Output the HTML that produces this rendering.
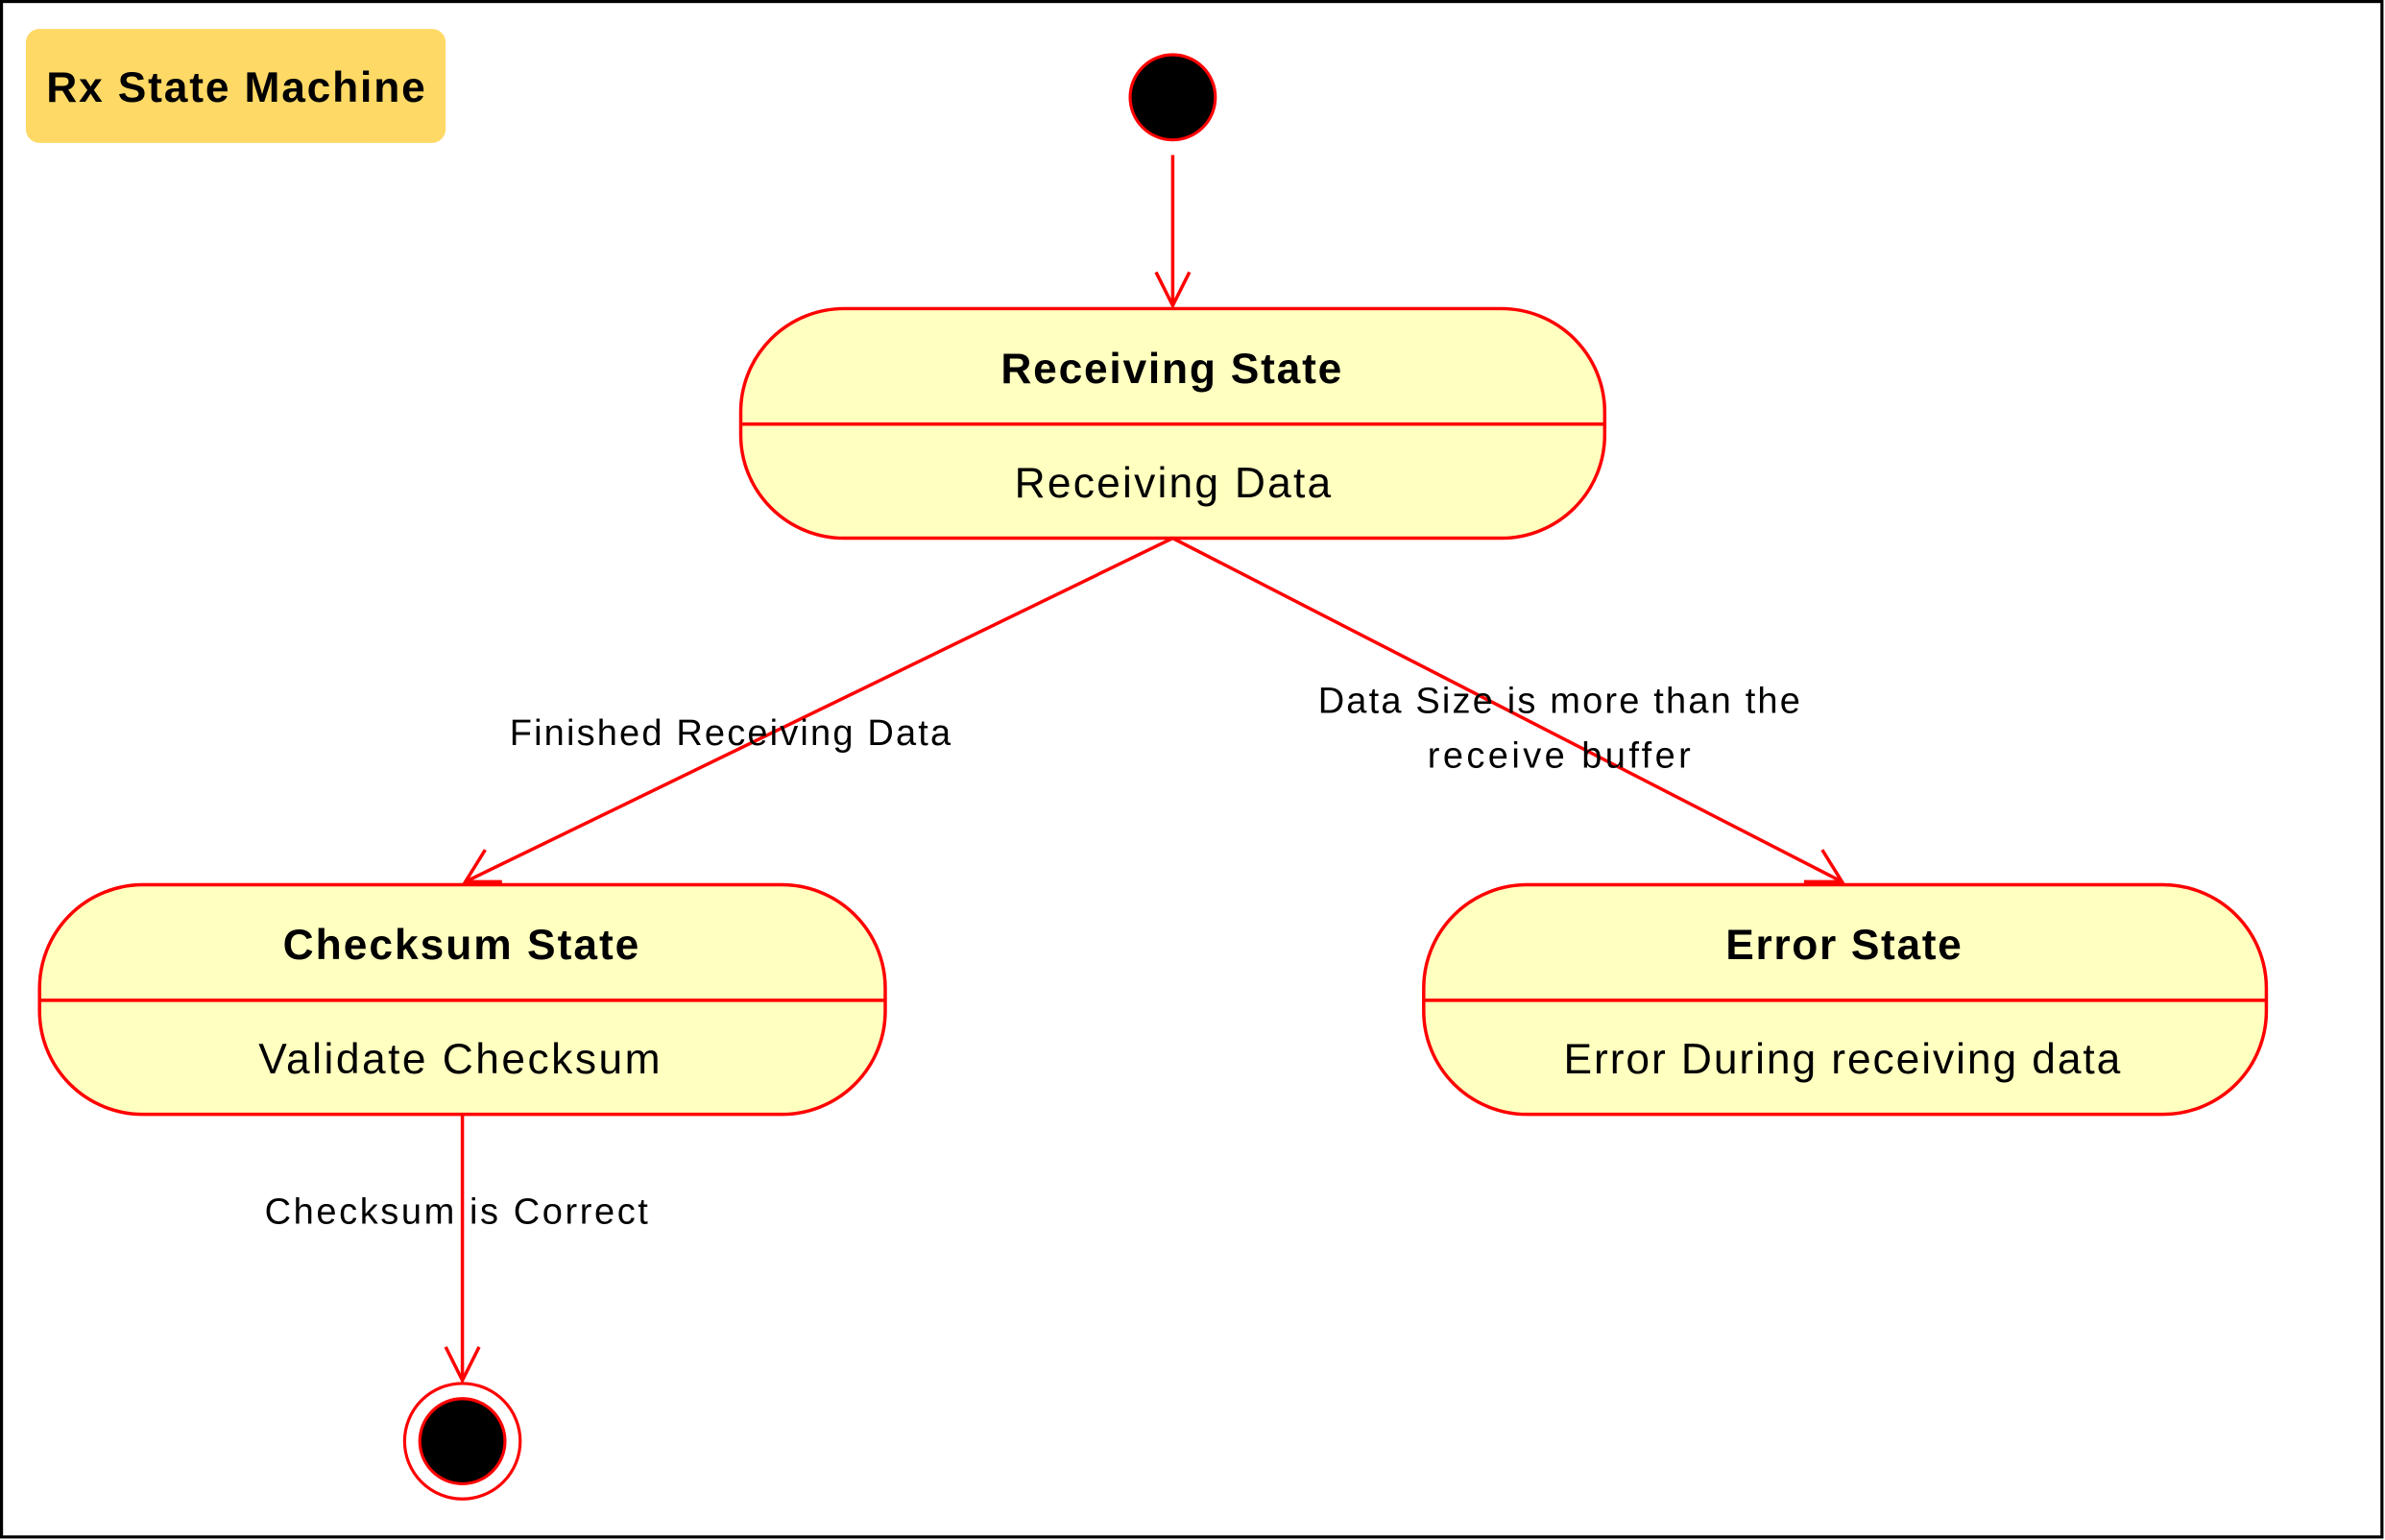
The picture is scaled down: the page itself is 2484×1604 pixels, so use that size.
<!DOCTYPE html>
<html><head><meta charset="utf-8"><style>html,body{margin:0;padding:0;background:#fff}svg{display:block}</style></head>
<body>
<svg width="2484" height="1604" viewBox="0 0 1568 1013" preserveAspectRatio="none" xmlns="http://www.w3.org/2000/svg" font-family="Liberation Sans, Arial, sans-serif">
<rect x="1" y="1" width="1565" height="1010" fill="#fff" stroke="#000" stroke-width="2"/>
<rect x="17" y="19" width="276" height="75" rx="9" fill="#FFD966"/>
<text x="155" y="67" font-size="28" font-weight="bold" text-anchor="middle" textLength="249" lengthAdjust="spacing">Rx State Machine</text>
<g stroke="#ff0000" stroke-width="2.2" fill="none">
<line x1="771" y1="102" x2="771" y2="201"/>
<polyline points="760,179 771,201 782,179"/>
<line x1="771" y1="354" x2="306" y2="580"/>
<polyline points="319,559 306,580 330,580"/>
<line x1="771" y1="354" x2="1211" y2="580"/>
<polyline points="1186,580 1211,580 1198,559"/>
<line x1="304" y1="733" x2="304" y2="908"/>
<polyline points="293,886 304,908 315,886"/>
</g>
<circle cx="771" cy="64" r="28" fill="#000" stroke="#ff0000" stroke-width="2"/>
<circle cx="304" cy="948" r="38" fill="#fff" stroke="#ff0000" stroke-width="2"/>
<circle cx="304" cy="948" r="28" fill="#000" stroke="#ff0000" stroke-width="2"/>
<g stroke="#ff0000" stroke-width="2.2" fill="#FFFFC0">
<rect x="487" y="203" width="568" height="151" rx="68"/>
<rect x="26" y="582" width="556" height="151" rx="68"/>
<rect x="936" y="582" width="554" height="151" rx="68"/>
<line x1="487" y1="279" x2="1055" y2="279"/>
<line x1="26" y1="658" x2="582" y2="658"/>
<line x1="936" y1="658" x2="1490" y2="658"/>
</g>
<g font-size="28" text-anchor="middle" lengthAdjust="spacing">
<text x="770" y="252" font-weight="bold" textLength="224">Receiving State</text>
<text x="771" y="327" textLength="208">Receiving Data</text>
<text x="303" y="631" font-weight="bold" textLength="234">Checksum State</text>
<text x="302" y="706" textLength="264">Validate Checksum</text>
<text x="1212" y="631" font-weight="bold" textLength="155">Error State</text>
<text x="1211" y="706" textLength="366">Error During receiving data</text>
</g>
<g font-size="24" text-anchor="middle" lengthAdjust="spacing">
<text x="480" y="490" textLength="290">Finished Receiving Data</text>
<text x="1025" y="469" textLength="317">Data Size is more than the</text>
<text x="1025" y="505" textLength="173">receive buffer</text>
<text x="300" y="805" textLength="252">Checksum is Correct</text>
</g>
</svg>
</body></html>
